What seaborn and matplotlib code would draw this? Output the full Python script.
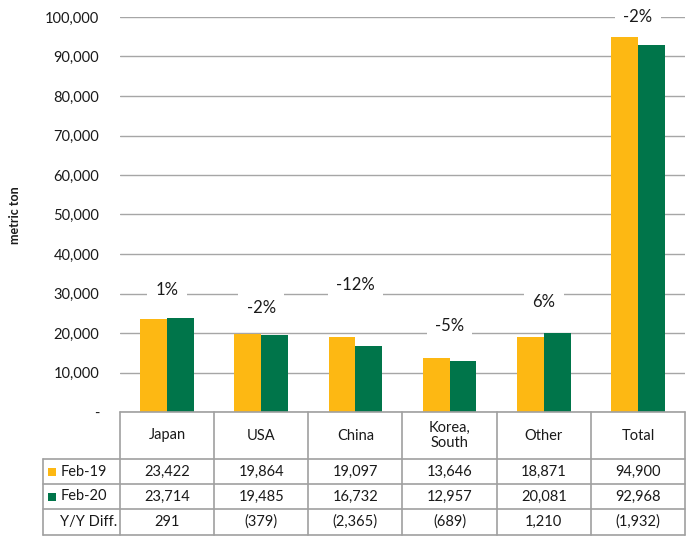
import numpy as np
import pandas as pd
import matplotlib
matplotlib.use("Agg")
import matplotlib.pyplot as plt
import seaborn as sns
from matplotlib.lines import Line2D
from matplotlib.patches import Rectangle
from matplotlib.ticker import FuncFormatter
from matplotlib.transforms import blended_transform_factory

categories = ["Japan", "USA", "China", "Korea,\nSouth", "Other", "Total"]
feb19 = [23422, 19864, 19097, 13646, 18871, 94900]
feb20 = [23714, 19485, 16732, 12957, 20081, 92968]
diff_labels = ["291", "(379)", "(2,365)", "(689)", "1,210", "(1,932)"]
pct_labels = ["1%", "-2%", "-12%", "-5%", "6%", "-2%"]
pct_label_y = [30900, 26300, 32150, 21800, 27800, 100000]
series = ["Feb-19", "Feb-20"]
colors = ["#FDB813", "#00754A"]

sns.set_theme(style="white")
plt.rcParams['font.family'] = ['Lato', 'DejaVu Sans']

W, H = 691, 537
fig = plt.figure(figsize=(W / 100, H / 100), dpi=100)
fig.patch.set_facecolor("white")

def fx(x):
    return x / W

def fy(y):
    return 1 - y / H

AX_L, AX_R, AX_T, AX_B = 120, 685, 17, 412
ax = fig.add_axes([fx(AX_L), fy(AX_B), (AX_R - AX_L) / W, (AX_B - AX_T) / H])

df = pd.DataFrame({
    "cat": categories * 2,
    "series": [series[0]] * len(categories) + [series[1]] * len(categories),
    "value": feb19 + feb20,
})
sns.barplot(data=df, x="cat", y="value", hue="series", palette=colors,
            width=0.57, gap=0, ax=ax, legend=False, linewidth=0, saturation=1)

ax.set_xlim(-0.5, len(categories) - 0.5)
ax.set_ylim(0, 100000)
ax.set_yticks(np.arange(0, 100001, 10000))
ax.yaxis.set_major_formatter(FuncFormatter(lambda v, p: "-" if v == 0 else f"{int(v):,}"))
ax.tick_params(axis="y", length=0, pad=15, labelsize=10.5, labelcolor="#1a1a1a")
ax.set_xticks([])
ax.set_xlabel("")
ax.set_ylabel("")
ax.yaxis.grid(True, color="#a6a6a6", lw=1)
ax.set_axisbelow(True)
for s in ax.spines.values():
    s.set_visible(False)

for i, (lbl, yv) in enumerate(zip(pct_labels, pct_label_y)):
    ax.text(i, yv, lbl, ha="center", va="center", fontsize=12, color="#1a1a1a",
            bbox=dict(boxstyle="square,pad=0.5", fc="white", ec="none"),
            clip_on=False, zorder=5)

fig.text(fx(15), fy(215), "metric ton", rotation=90, fontsize=9, fontweight="bold",
         ha="center", va="center", color="#1a1a1a")

# Data table below the chart
tr = blended_transform_factory(ax.transData, fig.transFigure)
gc = "#a0a0a0"
rows_y = [412, 459, 484, 509, 535]
TL = 43
fig.add_artist(Line2D([fx(AX_L), fx(AX_R)], [fy(412), fy(412)], color=gc, lw=1.2, transform=fig.transFigure))
for y in rows_y[1:]:
    fig.add_artist(Line2D([fx(TL), fx(AX_R)], [fy(y), fy(y)], color=gc, lw=1.2, transform=fig.transFigure))
for k in range(len(categories) + 1):
    fig.add_artist(Line2D([k - 0.5, k - 0.5], [fy(412), fy(535)], color=gc, lw=1.2, transform=tr))
fig.add_artist(Line2D([fx(TL), fx(TL)], [fy(459), fy(535)], color=gc, lw=1.2, transform=fig.transFigure))

tfs = 10.5
tc = "#1a1a1a"
for i, c in enumerate(categories):
    fig.text(i, fy(435.5), c, transform=tr, ha="center", va="center", fontsize=tfs,
             color=tc, linespacing=1.1)
    fig.text(i, fy(471.5), f"{feb19[i]:,}", transform=tr, ha="center", va="center", fontsize=tfs, color=tc)
    fig.text(i, fy(496.5), f"{feb20[i]:,}", transform=tr, ha="center", va="center", fontsize=tfs, color=tc)
    fig.text(i, fy(522), diff_labels[i], transform=tr, ha="center", va="center", fontsize=tfs, color=tc)

for j, (sname, col, yc) in enumerate(zip(series, colors, [471.5, 496.5])):
    fig.add_artist(Rectangle((fx(48), fy(yc + 4)), 8 / W, 8 / H, fc=col, ec="none",
                             transform=fig.transFigure))
    fig.text(fx(61), fy(yc), sname, ha="left", va="center", fontsize=tfs, color=tc)
fig.text(fx(117), fy(522), "Y/Y Diff.", ha="right", va="center", fontsize=tfs, color=tc)

fig.savefig("out.png", dpi=100)
